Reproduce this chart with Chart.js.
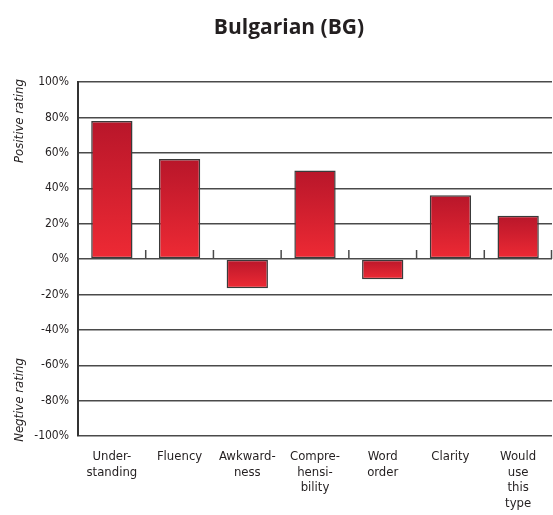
<!DOCTYPE html>
<html>
<head>
<meta charset="utf-8">
<script src="https://cdn.jsdelivr.net/npm/chart.js@4"></script>
<style>
  body { margin: 0; background: #fff; }
  #wrap { width: 553px; height: 515px; position: relative; }
</style>
</head>
<body>
<div id="wrap"><canvas id="myChart"></canvas></div>
<script>
'use strict';

const titleText = 'Bulgarian (BG)';
const categories = [
  ['Under-', 'standing'],
  ['Fluency'],
  ['Awkward-', 'ness'],
  ['Compre-', 'hensi-', 'bility'],
  ['Word', 'order'],
  ['Clarity'],
  ['Would', 'use', 'this', 'type']
];
const ratings = [78, 56.5, -16.5, 50, -11.5, 36, 24.5];
const yTicks = [-100, -80, -60, -40, -20, 0, 20, 40, 60, 80, 100];
const posLabel = 'Positive rating';
const negLabel = 'Negtive rating';

const narrow = '"Liberation Sans Narrow", "DejaVu Sans Condensed", sans-serif';
const ink = '#231f20';
const lineGray = '#4a4a4a';

// gradient per bar, dark at the top, bright at the bottom
function barFill(ctx) {
  const chart = ctx.chart;
  const area = chart.chartArea;
  if (!area || ctx.type !== 'data') return '#d0202e';
  const y = chart.scales.y;
  const v = ctx.raw;
  const p1 = y.getPixelForValue(v);
  const p0 = y.getPixelForValue(0);
  const top = Math.min(p0, p1);
  const bot = Math.max(p0, p1);
  const g = chart.ctx.createLinearGradient(0, top, 0, bot);
  g.addColorStop(0, 'rgb(184, 22, 42)');
  g.addColorStop(1, 'rgb(238, 42, 52)');
  return g;
}

// title, side labels and the little ticks on the zero line
const extras = {
  id: 'extras',
  afterDraw(chart) {
    const c = chart.ctx;
    const x = chart.scales.x;
    const y = chart.scales.y;
    const zero = y.getPixelForValue(0);
    c.save();
    c.strokeStyle = lineGray;
    c.lineWidth = 1.5;
    for (let i = 1; i <= categories.length; i++) {
      const px = (x.getPixelForValue(i - 1) + x.getPixelForValue(i)) / 2;
      const xx = i === categories.length ? chart.chartArea.right - 0.5 : px;
      c.beginPath();
      c.moveTo(xx, zero);
      c.lineTo(xx, zero - 9);
      c.stroke();
    }

    c.fillStyle = ink;
    c.font = 'bold 21px "Open Sans", sans-serif';
    c.textAlign = 'center';
    c.textBaseline = 'middle';
    c.fillText(titleText, 289, 28);

    c.font = 'italic 13px ' + narrow;
    c.translate(20, 121);
    c.rotate(-Math.PI / 2);
    c.fillText(posLabel, 0, 0);
    c.rotate(Math.PI / 2);
    c.translate(0, 279);
    c.rotate(-Math.PI / 2);
    c.fillText(negLabel, 0, 0);
    c.restore();
  }
};

let canvasChart = document.getElementById('myChart').getContext('2d');
const myChart = new Chart(canvasChart, {
  type: 'bar',
  data: {
    labels: categories,
    datasets: [{
      data: ratings,
      backgroundColor: barFill,
      borderColor: '#3a3a3a',
      borderWidth: 1.5,
      borderSkipped: false,
      barPercentage: 0.61,
      categoryPercentage: 1
    }]
  },
  options: {
    responsive: true,
    maintainAspectRatio: false,
    animation: false,
    layout: { padding: { top: 82, right: 1, left: 0, bottom: 0 } },
    plugins: {
      legend: { display: false },
      title: { display: false },
      tooltip: { enabled: false }
    },
    scales: {
      x: {
        grid: { display: false },
        border: { display: false },
        ticks: {
          color: ink,
          font: { family: narrow, size: 13, lineHeight: 1.2 },
          padding: 5,
          maxRotation: 0,
          autoSkip: false
        },
        afterFit(scale) { scale.height = 79; }
      },
      y: {
        min: -100,
        max: 100,
        afterBuildTicks(scale) {
          scale.ticks = yTicks.map(v => ({ value: v }));
        },
        grid: { color: lineGray, lineWidth: 1.4, drawTicks: false },
        border: { display: true, color: '#333', width: 2 },
        ticks: {
          color: ink,
          font: { family: narrow, size: 12 },
          padding: 9,
          callback: v => v + '%'
        },
        afterFit(scale) { scale.width = 78; }
      }
    }
  },
  plugins: [extras]
});
</script>
</body>
</html>
